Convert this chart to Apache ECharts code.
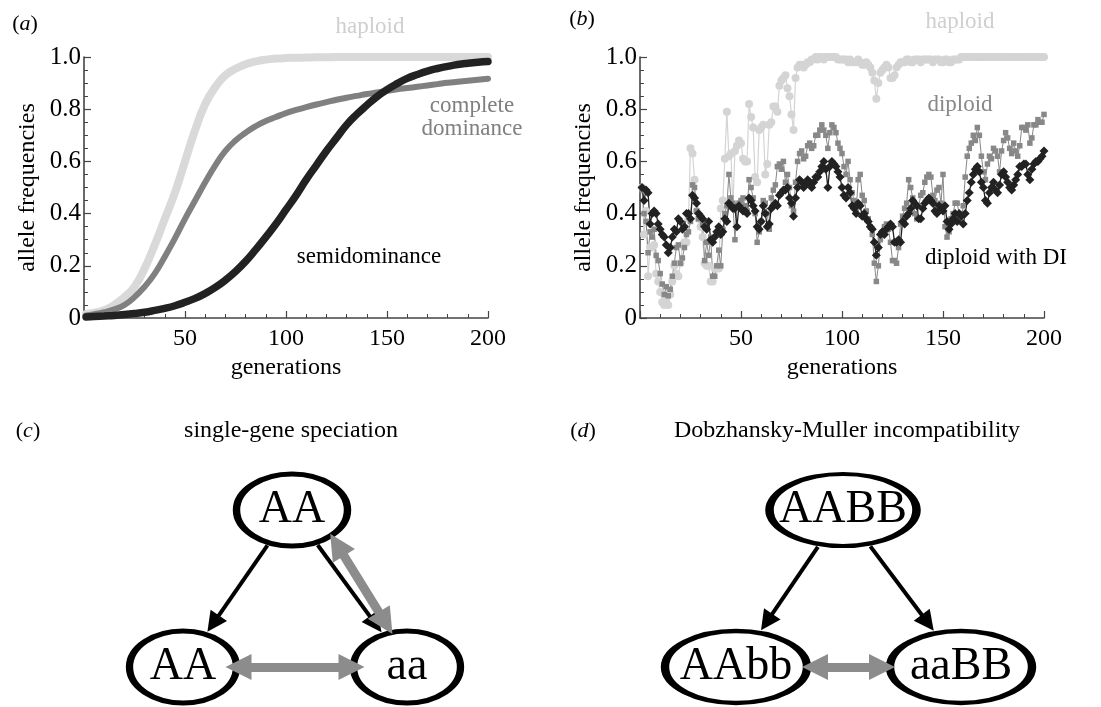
<!DOCTYPE html>
<html>
<head>
<meta charset="utf-8">
<script src="https://cdn.jsdelivr.net/npm/echarts@6/dist/echarts.min.js"></script>
<style>
html, body { margin: 0; padding: 0; background: #fff; }
#main { width: 1101px; height: 707px; }
</style>
</head>
<body>
<div id="main"></div>
<script>
/* (a) deterministic runs, read every 5 generations */
var gensA = [1, 5, 10, 15, 20, 25, 30, 35, 40, 45, 50, 55, 60, 65, 70, 75, 80, 85, 90, 95, 100,
	105, 110, 115, 120, 125, 130, 135, 140, 145, 150, 155, 160, 165, 170, 175, 180, 185, 190, 195, 200];
var haploidA = [0.015, 0.02, 0.03, 0.05, 0.08, 0.12, 0.19, 0.28, 0.38, 0.48, 0.6, 0.72, 0.82, 0.885, 0.93, 0.955, 0.972, 0.983, 0.99, 0.994, 0.996,
	0.997, 0.998, 0.999, 0.999, 1, 1, 1, 1, 1, 1, 1, 1, 1, 1, 1, 1, 1, 1, 1, 1];
var dominanceA = [0.01, 0.015, 0.022, 0.033, 0.05, 0.08, 0.12, 0.17, 0.235, 0.305, 0.38, 0.45, 0.52, 0.585, 0.64, 0.68, 0.71, 0.735, 0.755, 0.77, 0.785,
	0.797, 0.808, 0.818, 0.827, 0.836, 0.844, 0.851, 0.858, 0.864, 0.87, 0.876, 0.881, 0.886, 0.891, 0.896, 0.901, 0.905, 0.909, 0.913, 0.917];
var semidomA = [0.004, 0.006, 0.008, 0.01, 0.013, 0.017, 0.022, 0.029, 0.037, 0.047, 0.06, 0.075, 0.094, 0.117, 0.145, 0.178, 0.217, 0.262, 0.31, 0.36, 0.415,
	0.47, 0.53, 0.585, 0.64, 0.69, 0.74, 0.78, 0.815, 0.848, 0.875, 0.898, 0.918, 0.933, 0.946, 0.956, 0.964, 0.971, 0.976, 0.98, 0.983];

/* (b) one stochastic run, generations 1..200 */
var haploidB = [
	0.50, 0.32, 0.41, 0.16, 0.27, 0.27, 0.28, 0.17, 0.14, 0.10,
	0.06, 0.05, 0.07, 0.05, 0.09, 0.14, 0.20, 0.17, 0.16, 0.21,
	0.28, 0.29, 0.29, 0.38, 0.65, 0.63, 0.53, 0.41, 0.38, 0.35,
	0.31, 0.21, 0.20, 0.20, 0.14, 0.14, 0.19, 0.19, 0.19, 0.42,
	0.45, 0.61, 0.79, 0.62, 0.63, 0.43, 0.64, 0.66, 0.68, 0.67,
	0.61, 0.60, 0.60, 0.82, 0.77, 0.73, 0.54, 0.52, 0.72, 0.73,
	0.74, 0.55, 0.59, 0.74, 0.75, 0.81, 0.81, 0.79, 0.89, 0.91,
	0.92, 0.93, 0.88, 0.85, 0.78, 0.72, 0.92, 0.96, 0.97, 0.97,
	0.96, 0.97, 0.98, 0.98, 0.99, 0.99, 1.00, 0.99, 1.00, 1.00,
	0.99, 1.00, 1.00, 1.00, 1.00, 1.00, 1.00, 0.99, 0.99, 0.99,
	0.99, 0.99, 0.98, 0.99, 0.98, 0.98, 0.98, 0.99, 0.98, 0.97,
	0.97, 0.98, 0.97, 0.96, 0.94, 0.91, 0.84, 0.90, 0.94, 0.95,
	0.96, 0.97, 0.96, 0.92, 0.92, 0.93, 0.96, 0.97, 0.98, 0.98,
	0.98, 0.99, 0.99, 0.98, 0.98, 0.99, 0.99, 0.99, 0.98, 0.99,
	0.99, 0.99, 0.99, 0.99, 0.98, 0.99, 0.99, 0.99, 0.98, 0.98,
	0.99, 0.99, 0.98, 0.98, 0.99, 0.99, 0.99, 0.99, 1.00, 1.00,
	1.00, 1.00, 1.00, 1.00, 1.00, 1.00, 1.00, 1.00, 1.00, 1.00,
	1.00, 1.00, 1.00, 1.00, 1.00, 1.00, 1.00, 1.00, 1.00, 1.00,
	1.00, 1.00, 1.00, 1.00, 1.00, 1.00, 1.00, 1.00, 1.00, 1.00,
	1.00, 1.00, 1.00, 1.00, 1.00, 1.00, 1.00, 1.00, 1.00, 1.00
];
var diploidB = [
	0.49, 0.40, 0.37, 0.25, 0.33, 0.31, 0.34, 0.24, 0.22, 0.17,
	0.13, 0.09, 0.12, 0.085, 0.11, 0.16, 0.21, 0.27, 0.28, 0.21,
	0.23, 0.27, 0.32, 0.33, 0.37, 0.51, 0.50, 0.41, 0.38, 0.39,
	0.36, 0.22, 0.29, 0.24, 0.31, 0.16, 0.16, 0.20, 0.26, 0.20,
	0.34, 0.40, 0.43, 0.55, 0.46, 0.44, 0.30, 0.43, 0.44, 0.45,
	0.46, 0.43, 0.41, 0.53, 0.50, 0.46, 0.40, 0.29, 0.33, 0.37,
	0.45, 0.44, 0.40, 0.34, 0.46, 0.49, 0.51, 0.58, 0.59, 0.57,
	0.60, 0.52, 0.55, 0.50, 0.43, 0.41, 0.52, 0.60, 0.63, 0.64,
	0.61, 0.62, 0.66, 0.67, 0.65, 0.66, 0.70, 0.70, 0.72, 0.74,
	0.72, 0.70, 0.65, 0.71, 0.74, 0.73, 0.71, 0.67, 0.65, 0.63,
	0.58, 0.55, 0.60, 0.53, 0.48, 0.45, 0.41, 0.53, 0.55, 0.47,
	0.45, 0.41, 0.38, 0.35, 0.32, 0.21, 0.14, 0.20, 0.30, 0.33,
	0.35, 0.36, 0.34, 0.29, 0.22, 0.22, 0.21, 0.27, 0.36, 0.39,
	0.42, 0.44, 0.53, 0.50, 0.46, 0.40, 0.38, 0.43, 0.47, 0.48,
	0.52, 0.54, 0.55, 0.54, 0.47, 0.45, 0.49, 0.50, 0.44, 0.55,
	0.35, 0.31, 0.33, 0.38, 0.40, 0.44, 0.44, 0.40, 0.37, 0.43,
	0.54, 0.62, 0.65, 0.67, 0.70, 0.68, 0.73, 0.70, 0.62, 0.56,
	0.53, 0.59, 0.62, 0.61, 0.65, 0.64, 0.62, 0.56, 0.64, 0.68,
	0.71, 0.69, 0.65, 0.63, 0.67, 0.64, 0.62, 0.66, 0.73, 0.73,
	0.72, 0.74, 0.67, 0.69, 0.74, 0.74, 0.76, 0.75, 0.75, 0.78
];
var diploidDIB = [
	0.50, 0.45, 0.49, 0.48, 0.36, 0.40, 0.41, 0.40, 0.36, 0.34,
	0.32, 0.31, 0.28, 0.25, 0.27, 0.31, 0.34, 0.33, 0.38, 0.37,
	0.34, 0.35, 0.40, 0.40, 0.38, 0.47, 0.46, 0.44, 0.40, 0.39,
	0.38, 0.35, 0.34, 0.37, 0.30, 0.29, 0.31, 0.33, 0.35, 0.32,
	0.33, 0.38, 0.37, 0.44, 0.43, 0.42, 0.42, 0.35, 0.43, 0.42,
	0.41, 0.41, 0.40, 0.46, 0.45, 0.43, 0.41, 0.35, 0.34, 0.37,
	0.43, 0.40, 0.35, 0.36, 0.42, 0.43, 0.44, 0.43, 0.47, 0.48,
	0.49, 0.49, 0.50, 0.46, 0.44, 0.39, 0.46, 0.50, 0.53, 0.52,
	0.50, 0.51, 0.53, 0.52, 0.50, 0.52, 0.54, 0.54, 0.56, 0.58,
	0.60, 0.57, 0.50, 0.58, 0.60, 0.59, 0.58, 0.56, 0.54, 0.50,
	0.47, 0.46, 0.50, 0.48, 0.43, 0.42, 0.40, 0.44, 0.43, 0.39,
	0.40, 0.38, 0.37, 0.35, 0.34, 0.29, 0.24, 0.27, 0.32, 0.33,
	0.32, 0.34, 0.35, 0.36, 0.35, 0.29, 0.29, 0.30, 0.29, 0.37,
	0.36, 0.39, 0.40, 0.42, 0.45, 0.44, 0.43, 0.38, 0.38, 0.42,
	0.44, 0.45, 0.46, 0.45, 0.44, 0.41, 0.40, 0.43, 0.42, 0.41,
	0.43, 0.37, 0.34, 0.36, 0.38, 0.40, 0.37, 0.40, 0.39, 0.36,
	0.40, 0.45, 0.48, 0.52, 0.55, 0.57, 0.58, 0.56, 0.52, 0.50,
	0.45, 0.44, 0.48, 0.50, 0.52, 0.49, 0.48, 0.51, 0.55, 0.56,
	0.54, 0.52, 0.50, 0.49, 0.51, 0.53, 0.55, 0.58, 0.58, 0.59,
	0.59, 0.55, 0.53, 0.57, 0.59, 0.60, 0.60, 0.61, 0.62, 0.64
];

var yTickVals = [0, 0.2, 0.4, 0.6, 0.8, 1];
var yTickLabels = ['0', '0.2', '0.4', '0.6', '0.8', '1.0'];
var xTickLabels = ['', '50', '100', '150', '200'];

/* (c) and (d): genotypes and their links */
var genotypesC = ['AA', 'AA', 'aa'];
var linksC = [[0, 1, 'mut'], [0, 2, 'mut'], [0, 2, 'mix'], [1, 2, 'mix']];
var genotypesD = ['AABB', 'AAbb', 'aaBB'];
var linksD = [[0, 1, 'mut'], [0, 2, 'mut'], [1, 2, 'mix']];

/* layout, pixels */
var FONT = 'Liberation Serif';
var layoutC = {
	centers: [[292, 510], [183, 667], [407, 667]],
	sizes: [[111, 72], [107, 72], [107, 72]],
	tweak: { 2: { shift: [20, 5], inset: 5 }, 3: { inset: 14 } }
};
var layoutD = {
	centers: [[843, 510], [736, 667], [961, 667]],
	sizes: [[147, 72], [142, 72], [142, 72]],
	tweak: { 2: { inset: 8 } }
};
var BORDER = 6;
var HEAD_MUT = 20, HEAD_MIX = 26;

function pairs(xs, ys) {
	return ys.map(function(v, i) { return [xs[i], v]; });
}
function indexPairs(ys) {
	return ys.map(function(v, i) { return [i + 1, v]; });
}

/*沿方向 d 从 P 点走出椭圆的交点*/
function exitEllipse(c, a, b, p, d) {
	var ux = p[0] - c[0], uy = p[1] - c[1];
	var A = d[0] * d[0] / (a * a) + d[1] * d[1] / (b * b);
	var B = 2 * (ux * d[0] / (a * a) + uy * d[1] / (b * b));
	var C = ux * ux / (a * a) + uy * uy / (b * b) - 1;
	var t = (-B + Math.sqrt(B * B - 4 * A * C)) / (2 * A);
	return [p[0] + t * d[0], p[1] + t * d[1]];
}

function buildArrows(links, layout, kind) {
	var out = [];
	links.forEach(function(l, k) {
		if (l[2] !== kind) return;
		var tw = layout.tweak[k] || {};
		var shift = tw.shift || [0, 0];
		var inset = tw.inset || 0;
		var c0 = layout.centers[l[0]], c1 = layout.centers[l[1]];
		var s0 = layout.sizes[l[0]], s1 = layout.sizes[l[1]];
		var dx = c1[0] - c0[0], dy = c1[1] - c0[1];
		var len = Math.sqrt(dx * dx + dy * dy);
		var perp = [dy / len, -dx / len];
		var p0 = [c0[0] + perp[0] * shift[0], c0[1] + perp[1] * shift[0]];
		var p1 = [c1[0] + perp[0] * shift[1], c1[1] + perp[1] * shift[1]];
		var ex = p1[0] - p0[0], ey = p1[1] - p0[1];
		var el = Math.sqrt(ex * ex + ey * ey);
		var d = [ex / el, ey / el];
		var a = exitEllipse(c0, s0[0] / 2 + BORDER / 2, s0[1] / 2 + BORDER / 2, p0, d);
		var b = exitEllipse(c1, s1[0] / 2 + BORDER / 2, s1[1] / 2 + BORDER / 2, p1, [-d[0], -d[1]]);
		var head = kind === 'mix' ? HEAD_MIX : HEAD_MUT;
		var from, to;
		to = [b[0] + d[0] * inset - d[0] * head / 2, b[1] + d[1] * inset - d[1] * head / 2];
		if (kind === 'mix') {
			from = [a[0] - d[0] * inset + d[0] * head / 2, a[1] - d[1] * inset + d[1] * head / 2];
		} else {
			from = a;
		}
		out.push({ coords: [from, to] });
	});
	return out;
}

function buildNodes(names, layout) {
	return names.map(function(n, i) {
		return { name: n, value: layout.centers[i], symbolSize: layout.sizes[i] };
	});
}

function xFrame(grid) {
	return {
		gridIndex: grid, type: 'value', min: 0, max: 200, interval: 50,
		name: 'generations', nameLocation: 'middle', nameGap: 38,
		nameTextStyle: { fontFamily: FONT, fontSize: 24, color: '#000' },
		axisLine: { lineStyle: { color: '#444', width: 1.6 } },
		axisTick: { inside: true, length: 7, lineStyle: { color: '#444', width: 1.2 } },
		minorTick: { show: true, splitNumber: 5, length: 4, lineStyle: { color: '#444', width: 1 } },
		axisLabel: {
			fontFamily: FONT, fontSize: 24, color: '#000', margin: 9,
			formatter: function(v) { return xTickLabels[v / 50]; }
		},
		splitLine: { show: false }
	};
}
function yFrame(grid) {
	return {
		gridIndex: grid, type: 'value', min: 0, max: 1, interval: 0.2,
		name: 'allele frequencies', nameLocation: 'middle', nameGap: 44, nameRotate: 90,
		nameTextStyle: { fontFamily: FONT, fontSize: 24, color: '#000' },
		axisLine: { lineStyle: { color: '#444', width: 1.6 } },
		axisTick: { inside: true, length: 7, lineStyle: { color: '#444', width: 1.2 } },
		minorTick: { show: true, splitNumber: 4, length: 4, lineStyle: { color: '#444', width: 1 } },
		axisLabel: {
			fontFamily: FONT, fontSize: 25, color: '#000', margin: 3,
			formatter: function(v) {
				var i = yTickVals.indexOf(Math.round(v * 10) / 10);
				return i < 0 ? '' : yTickLabels[i];
			}
		},
		splitLine: { show: false }
	};
}

function tag(x, y, letter) {
	return {
		type: 'text', x: x, y: y,
		style: {
			text: '{p|(}{i|' + letter + '}{p|)}', align: 'center', verticalAlign: 'middle',
			rich: {
				p: { fontFamily: FONT, fontSize: 22, fill: '#000' },
				i: { fontFamily: FONT, fontSize: 22, fontStyle: 'italic', fill: '#000' }
			}
		}
	};
}
function note(x, y, text, color, size) {
	return {
		type: 'text', x: x, y: y,
		style: {
			text: text, fill: color, fontFamily: FONT, fontSize: size || 23,
			align: 'center', verticalAlign: 'middle', lineHeight: 23
		}
	};
}

var chart = echarts.init(document.getElementById('main'));
var option = {
	animation: false,
	backgroundColor: '#fff',
	grid: [
		{ left: 84, top: 57, width: 404, height: 261 },
		{ left: 640, top: 57, width: 404, height: 261 },
		{ left: 0, top: 0, width: 1101, height: 707 }
	],
	xAxis: [xFrame(0), xFrame(1), { gridIndex: 2, type: 'value', min: 0, max: 1101, show: false }],
	yAxis: [yFrame(0), yFrame(1), { gridIndex: 2, type: 'value', min: 0, max: 707, inverse: true, show: false }],
	graphic: [
		tag(25, 24, 'a'), tag(582, 19, 'b'), tag(28, 431, 'c'), tag(583, 431, 'd'),
		note(370, 27, 'haploid', '#cfcfcf'),
		note(472, 117, 'complete\ndominance', '#808080'),
		note(369, 257, 'semidominance', '#000'),
		note(960, 22, 'haploid', '#cfcfcf'),
		note(960, 105, 'diploid', '#888'),
		note(996, 258, 'diploid with DI', '#000'),
		note(291, 431, 'single-gene speciation', '#000', 24),
		note(847, 431, 'Dobzhansky-Muller incompatibility', '#000', 24)
	],
	series: [
		{
			type: 'line', xAxisIndex: 0, yAxisIndex: 0, data: pairs(gensA, haploidA),
			smooth: true, showSymbol: false, lineStyle: { color: '#d9d9d9', width: 8, cap: 'round' }
		},
		{
			type: 'line', xAxisIndex: 0, yAxisIndex: 0, data: pairs(gensA, dominanceA),
			smooth: true, showSymbol: false, lineStyle: { color: '#808080', width: 6, cap: 'round' }
		},
		{
			type: 'line', xAxisIndex: 0, yAxisIndex: 0, data: pairs(gensA, semidomA),
			smooth: true, showSymbol: false, lineStyle: { color: '#222', width: 7.5, cap: 'round' }
		},
		{
			type: 'line', xAxisIndex: 1, yAxisIndex: 1, data: indexPairs(haploidB),
			symbol: 'circle', symbolSize: 8, showAllSymbol: true,
			itemStyle: { color: '#d4d4d4' }, lineStyle: { color: '#d4d4d4', width: 1.2 }
		},
		{
			type: 'line', xAxisIndex: 1, yAxisIndex: 1, data: indexPairs(diploidB),
			symbol: 'rect', symbolSize: 5.5, showAllSymbol: true,
			itemStyle: { color: '#888' }, lineStyle: { color: '#888', width: 1 }
		},
		{
			type: 'line', xAxisIndex: 1, yAxisIndex: 1, data: indexPairs(diploidDIB),
			symbol: 'diamond', symbolSize: 9, showAllSymbol: true,
			itemStyle: { color: '#222' }, lineStyle: { color: '#222', width: 1.3 }
		},
		{
			type: 'scatter', xAxisIndex: 2, yAxisIndex: 2, symbol: 'circle',
			data: buildNodes(genotypesC, layoutC).concat(buildNodes(genotypesD, layoutD)),
			itemStyle: { color: '#fff', borderColor: '#000', borderWidth: BORDER, opacity: 1 },
			label: { show: true, position: 'inside', formatter: '{b}', fontFamily: FONT, fontSize: 46, color: '#000' },
			silent: true, z: 3
		},
		{
			type: 'lines', coordinateSystem: 'cartesian2d', xAxisIndex: 2, yAxisIndex: 2,
			data: buildArrows(linksC, layoutC, 'mut').concat(buildArrows(linksD, layoutD, 'mut')),
			symbol: ['none', 'triangle'], symbolSize: HEAD_MUT,
			lineStyle: { color: '#000', width: 4, opacity: 1, curveness: 0 },
			silent: true, z: 4
		},
		{
			type: 'lines', coordinateSystem: 'cartesian2d', xAxisIndex: 2, yAxisIndex: 2,
			data: buildArrows(linksC, layoutC, 'mix').concat(buildArrows(linksD, layoutD, 'mix')),
			symbol: ['triangle', 'triangle'], symbolSize: HEAD_MIX,
			lineStyle: { color: '#8c8c8c', width: 9, opacity: 1, curveness: 0 },
			silent: true, z: 5
		}
	]
};
chart.setOption(option);
</script>
</body>
</html>
